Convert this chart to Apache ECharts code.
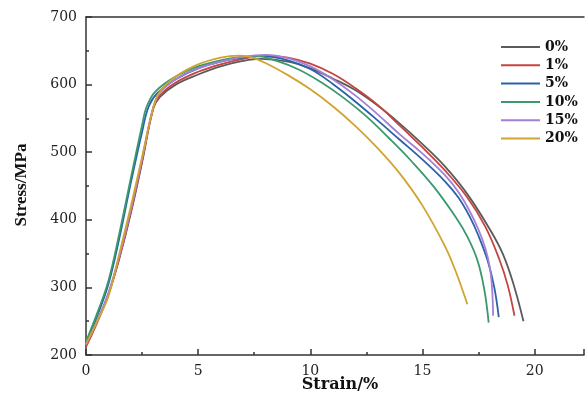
<!DOCTYPE html>
<html>
<head>
<meta charset="utf-8">
<script src="https://cdn.jsdelivr.net/npm/echarts@6/dist/echarts.min.js"></script>
<style>html,body{margin:0;padding:0;background:#fff}#c{width:587px;height:401px}</style>
</head>
<body>
<div id="c"></div>
<script>
const seriesNames = ['0%', '1%', '5%', '10%', '15%', '20%'];

const strain0 = [0, 0.5, 1, 1.5, 2, 2.5, 3.0, 3.3, 4, 5, 6, 7, 7.8, 9, 10, 11, 12, 13, 14, 15, 16, 17, 18, 18.6, 19.1, 19.5];
const stress0 = [216, 250, 290, 345, 410, 485, 565, 582, 600, 615, 627, 635, 638, 634, 624, 609, 592, 569, 542, 512, 479, 438, 386, 348, 300, 250];

const strain1 = [0, 0.5, 1, 1.5, 2, 2.5, 3, 3.3, 4, 5, 6, 7, 8, 9, 10, 11, 12, 13, 14, 15, 16, 17, 17.8, 18.42, 18.8, 19.1];
const stress1 = [212, 248, 290, 345, 412, 487, 565, 584, 603, 619, 630, 638, 643, 640, 631, 616, 595, 570, 539, 507, 473, 433, 390, 342, 303, 258];

const strain5 = [0, 0.5, 1, 1.5, 2, 2.5, 2.8, 3.2, 4, 5, 6, 7, 7.8, 9, 10, 11, 12, 13, 14, 15, 16, 16.6, 17.1, 17.5, 17.9, 18.2, 18.4];
const stress5 = [218, 258, 305, 375, 455, 530, 568, 588, 608, 624, 634, 640, 642, 636, 623, 601, 575, 547, 518, 489, 457, 433, 405, 376, 340, 300, 256];

const strain10 = [0, 0.5, 1, 1.5, 2, 2.5, 2.7, 3.1, 4, 5, 6, 7, 7.6, 8.5, 9.5, 10.5, 11.5, 12.5, 13.5, 14.5, 15.5, 16.5, 17, 17.45, 17.75, 17.95];
const stress10 = [220, 262, 310, 382, 462, 540, 567, 590, 612, 627, 636, 641, 642, 635, 622, 603, 580, 553, 521, 487, 449, 403, 375, 340, 298, 248];

const strain15 = [0, 0.5, 1, 1.5, 2, 2.5, 3, 3.3, 4, 5, 6, 7, 8, 9, 10, 11, 12, 13, 14, 15, 16, 16.6, 17.1, 17.5, 17.8, 18.0, 18.1, 18.15];
const stress15 = [215, 250, 292, 348, 415, 490, 567, 588, 608, 624, 634, 641, 644, 639, 627, 608, 584, 556, 526, 498, 466, 441, 413, 385, 358, 330, 300, 258];

const strain20 = [0, 0.5, 1, 1.5, 2, 2.5, 3, 3.3, 4, 5, 6, 6.8, 7.3, 8, 9, 10, 11, 12, 13, 14, 15, 16, 16.5, 17.0];
const stress20 = [216, 250, 287, 352, 420, 493, 566, 590, 612, 630, 640, 643, 641, 632, 614, 593, 568, 539, 506, 468, 421, 361, 322, 275];

const xTicks = [0, 5, 10, 15, 20];
const yTicks = [200, 300, 400, 500, 600, 700];

const colors = ['#5b5b5b', '#c6443f', '#2a62a8', '#3a9a6e', '#a47fd8', '#cfa430'];

function zip(xs, ys) { return xs.map((x, i) => [x, ys[i]]); }
const allData = [
  zip(strain0, stress0), zip(strain1, stress1), zip(strain5, stress5),
  zip(strain10, stress10), zip(strain15, stress15), zip(strain20, stress20)
];

const chart = echarts.init(document.getElementById('c'), null, {renderer: 'canvas'});
const axisFont = {fontFamily: 'DejaVu Serif', fontSize: 14, color: '#222'};
const lineSt = {color: '#333', width: 1.5};
chart.setOption({
  animation: false,
  backgroundColor: '#fff',
  grid: {left: 86, top: 17, bottom: 46, right: 0},
  legend: {
    orient: 'vertical', left: 496, top: 34,
    icon: 'rect', itemWidth: 39, itemHeight: 2, itemGap: 2.3,
    data: seriesNames,
    textStyle: {fontFamily: 'DejaVu Serif', fontWeight: 'bold', fontSize: 14, color: '#111', lineHeight: 16}
  },
  xAxis: [{
    type: 'value', min: 0, max: 22.2, interval: 5,
    axisLine: {lineStyle: lineSt},
    axisTick: {inside: true, length: 6, lineStyle: lineSt},
    minorTick: {show: true, splitNumber: 2, length: 3, lineStyle: lineSt},
    splitLine: {show: false},
    axisLabel: Object.assign({margin: 9, formatter: v => xTicks.includes(v) ? String(v) : ''}, axisFont)
  }, {
    type: 'value', position: 'top', min: 0, max: 22.2,
    axisLine: {show: true, lineStyle: lineSt},
    axisTick: {show: false}, axisLabel: {show: false}, splitLine: {show: false}
  }],
  yAxis: {
    type: 'value', min: 200, max: 700, interval: 100,
    axisLine: {lineStyle: lineSt},
    axisTick: {inside: true, length: 6, lineStyle: lineSt},
    minorTick: {show: true, splitNumber: 2, length: 3, lineStyle: lineSt},
    splitLine: {show: false},
    axisLabel: Object.assign({margin: 9, formatter: v => yTicks.includes(v) ? String(v) : ''}, axisFont)
  },
  graphic: [
    {type: 'text', x: 340, y: 385, style: {text: 'Strain/%', textAlign: 'center', textVerticalAlign: 'middle', font: 'bold 16px "DejaVu Serif"', fill: '#111'}},
    {type: 'text', x: 22, y: 185, rotation: Math.PI / 2, style: {text: 'Stress/MPa', textAlign: 'center', textVerticalAlign: 'middle', font: 'bold 17px "Liberation Serif"', fill: '#111'}}
  ],
  series: seriesNames.map((n, i) => ({
    name: n, type: 'line', data: allData[i], smooth: 0.4, symbol: 'none',
    lineStyle: {color: colors[i], width: 1.8}, itemStyle: {color: colors[i]}
  }))
});
</script>
</body>
</html>
